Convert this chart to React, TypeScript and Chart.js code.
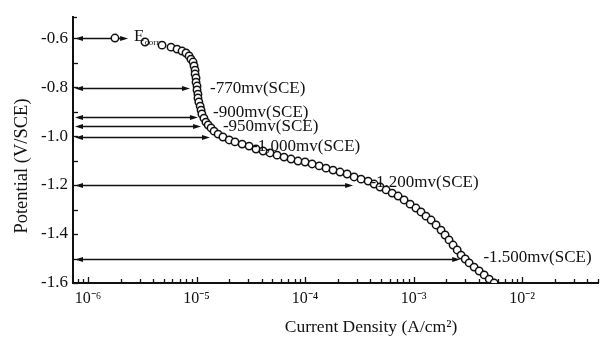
import React, { useEffect, useRef } from 'react';
import { Chart, registerables } from 'chart.js';

Chart.register(...registerables);

// Polarization curve
const currentDensity = [
  1.77e-6, 3.35e-6, 4.81e-6, 5.82e-6, 6.61e-6, 7.35e-6, 8.0e-6, 8.53e-6, 8.89e-6, 9.29e-6,
  9.49e-6, 9.69e-6, 9.69e-6, 9.89e-6, 9.89e-6, 1.01e-5, 1.01e-5, 1.03e-5, 1.03e-5, 1.05e-5,
  1.08e-5, 1.10e-5, 1.12e-5, 1.17e-5, 1.22e-5, 1.28e-5, 1.36e-5, 1.45e-5, 1.58e-5, 1.75e-5,
  2.0e-5, 2.26e-5, 2.63e-5, 3.05e-5, 3.53e-5, 4.10e-5, 4.75e-5, 5.52e-5, 6.40e-5, 7.43e-5,
  8.61e-5, 1.0e-4, 1.16e-4, 1.35e-4, 1.56e-4, 1.81e-4, 2.10e-4, 2.44e-4, 2.83e-4, 3.28e-4,
  3.81e-4, 4.33e-4, 4.91e-4, 5.58e-4, 6.34e-4, 7.20e-4, 8.17e-4, 9.29e-4, 1.05e-3, 1.17e-3,
  1.30e-3, 1.45e-3, 1.61e-3, 1.79e-3, 1.95e-3, 2.12e-3, 2.31e-3, 2.52e-3, 2.74e-3, 2.99e-3,
  3.25e-3, 3.61e-3, 4.02e-3, 4.47e-3, 4.97e-3, 5.52e-3,
];
const potential = [
  -0.600, -0.616, -0.629, -0.637, -0.645, -0.653, -0.661, -0.673, -0.686, -0.698,
  -0.714, -0.731, -0.747, -0.763, -0.780, -0.796, -0.812, -0.829, -0.845, -0.861,
  -0.878, -0.894, -0.910, -0.927, -0.943, -0.955, -0.967, -0.980, -0.992, -1.004,
  -1.016, -1.024, -1.033, -1.041, -1.053, -1.061, -1.069, -1.078, -1.086, -1.094,
  -1.102, -1.106, -1.114, -1.122, -1.131, -1.139, -1.147, -1.155, -1.167, -1.176,
  -1.184, -1.196, -1.208, -1.220, -1.233, -1.245, -1.261, -1.278, -1.294, -1.310,
  -1.327, -1.343, -1.363, -1.384, -1.404, -1.424, -1.445, -1.465, -1.486, -1.502,
  -1.518, -1.535, -1.551, -1.567, -1.584, -1.600,
];

// Horizontal double arrows (potential level, current density at the arrow tip)
const arrowPotential = [-0.600, -0.804, -0.922, -0.959, -1.004, -1.200, -1.502];
const arrowCurrent = [2.34e-6, 8.7e-6, 1.03e-5, 1.10e-5, 1.33e-5, 2.77e-4, 2.69e-3];

// Annotation texts and their anchors (left edge, middle) in data units
const noteText = ['-770mv(SCE)', '-900mv(SCE)', '-950mv(SCE)', '-1,000mv(SCE)', '-1.200mv(SCE)', '-1.500mv(SCE)'];
const noteCurrent = [1.33e-5, 1.42e-5, 1.75e-5, 3.25e-5, 4.0e-4, 4.4e-3];
const notePotential = [-0.808, -0.902, -0.963, -1.041, -1.188, -1.494];
const ecorrCurrent = 2.65e-6;
const ecorrPotential = -0.608;

// Axes
const yTickValues = [-1.6, -1.5, -1.4, -1.3, -1.2, -1.1, -1.0, -0.9, -0.8, -0.7, -0.6];
const xDecades = [-7, -6, -5, -4, -3, -2];
const xMin = 7.27e-7;
const xMax = 0.05;
const yMin = -1.6;
const yMax = -0.514;
const xTitle = 'Current Density (A/cm²)';
const yTitle = 'Potential (V/SCE)';

const FONT = "'Liberation Serif', 'Times New Roman', serif";
const INK = '#111111';

const SUP: Record<string, string> = {
  '-': '⁻', '0': '⁰', '1': '¹', '2': '²', '3': '³', '4': '⁴', '5': '⁵', '6': '⁶', '7': '⁷', '8': '⁸', '9': '⁹',
};
const sup = (s: string) => s.split('').map((c) => SUP[c] ?? c).join('');

function head(ctx: CanvasRenderingContext2D, tipX: number, tipY: number, dir: number) {
  ctx.beginPath();
  ctx.moveTo(tipX, tipY);
  ctx.lineTo(tipX - dir * 8, tipY - 2.6);
  ctx.lineTo(tipX - dir * 8, tipY + 2.6);
  ctx.closePath();
  ctx.fill();
}

const decor = {
  id: 'decor',
  beforeDatasetsDraw(chart: any) {
    const { ctx, chartArea } = chart;
    const x = chart.scales.x;
    const y = chart.scales.y;
    ctx.save();
    ctx.strokeStyle = INK;
    ctx.fillStyle = INK;
    // inward tick marks
    ctx.lineWidth = 1.3;
    y.ticks.forEach((t: any) => {
      const py = Math.round(y.getPixelForValue(t.value)) + 0.5;
      ctx.beginPath();
      ctx.moveTo(chartArea.left, py);
      ctx.lineTo(chartArea.left + 5, py);
      ctx.stroke();
    });
    x.ticks.forEach((t: any) => {
      const px = Math.round(x.getPixelForValue(t.value)) + 0.5;
      const len = t.major ? 6 : 4;
      ctx.beginPath();
      ctx.moveTo(px, chartArea.bottom);
      ctx.lineTo(px, chartArea.bottom - len);
      ctx.stroke();
    });
    // top end mark of the y axis
    ctx.beginPath();
    ctx.moveTo(chartArea.left, chartArea.top + 0.5);
    ctx.lineTo(chartArea.left + 4, chartArea.top + 0.5);
    ctx.stroke();
    // arrows
    ctx.lineWidth = 1.4;
    arrowPotential.forEach((v, i) => {
      const py = Math.round(y.getPixelForValue(v)) + 0.5;
      const x0 = chartArea.left + 2;
      const x1 = x.getPixelForValue(arrowCurrent[i]);
      ctx.beginPath();
      ctx.moveTo(x0 + 4, py);
      ctx.lineTo(x1 - 4, py);
      ctx.stroke();
      head(ctx, x0, py, -1);
      head(ctx, x1, py, 1);
    });
    ctx.restore();
  },
  afterDatasetsDraw(chart: any) {
    const { ctx } = chart;
    const x = chart.scales.x;
    const y = chart.scales.y;
    ctx.save();
    ctx.fillStyle = INK;
    ctx.textBaseline = 'middle';
    ctx.textAlign = 'left';
    ctx.font = `17px ${FONT}`;
    noteText.forEach((s, i) => {
      ctx.fillText(s, x.getPixelForValue(noteCurrent[i]), y.getPixelForValue(notePotential[i]));
    });
    // E_corr
    const ex = x.getPixelForValue(ecorrCurrent);
    const ey = y.getPixelForValue(ecorrPotential);
    ctx.font = `17px ${FONT}`;
    ctx.fillText('E', ex, ey - 3);
    const ew = ctx.measureText('E').width;
    ctx.font = `9px ${FONT}`;
    ctx.fillText('corr', ex + ew + 0.5, ey + 3);
    // axis titles
    ctx.textAlign = 'center';
    ctx.font = `17.5px ${FONT}`;
    ctx.fillText(xTitle, 371, 327);
    ctx.save();
    ctx.translate(22, 166);
    ctx.rotate(-Math.PI / 2);
    ctx.font = `18.5px ${FONT}`;
    ctx.fillText(yTitle, 0, 0);
    ctx.restore();
    ctx.restore();
  },
};

export default function App() {
  const ref = useRef<HTMLCanvasElement | null>(null);
  useEffect(() => {
    if (!ref.current) return;
    const chart = new Chart(ref.current, {
      type: 'scatter',
      data: {
        datasets: [
          {
            data: currentDensity.map((c, i) => ({ x: c, y: potential[i] })),
            showLine: false,
            pointRadius: 3.7,
            pointBorderWidth: 1.5,
            borderColor: INK,
            backgroundColor: '#ffffff',
            pointBackgroundColor: '#ffffff',
            pointBorderColor: INK,
          },
        ],
      },
      options: {
        responsive: false,
        animation: false,
        devicePixelRatio: 1,
        layout: { padding: { top: 17, right: 9, left: 0, bottom: 0 } },
        plugins: { legend: { display: false }, tooltip: { enabled: false } },
        scales: {
          x: {
            type: 'logarithmic',
            position: 'bottom',
            min: xMin,
            max: xMax,
            bounds: 'data',
            grid: { display: false, drawTicks: false },
            border: { display: true, color: INK, width: 2 },
            afterBuildTicks: (s: any) => {
              const t: any[] = [];
              xDecades.forEach((e) => {
                for (let m = 1; m <= 9; m++) {
                  const v = m * Math.pow(10, e);
                  if (v >= s.min && v <= s.max) t.push({ value: v, major: m === 1 });
                }
              });
              s.ticks = t;
            },
            afterFit: (s: any) => {
              s.height = 62;
            },
            ticks: {
              autoSkip: false,
              maxRotation: 0,
              padding: 6,
              color: INK,
              font: { family: FONT, size: 16 },
              callback: (v: any) => {
                const e = Math.log10(Number(v));
                if (Math.abs(e - Math.round(e)) > 1e-6) return '';
                return '10' + sup(String(Math.round(e)));
              },
            },
          },
          y: {
            type: 'linear',
            min: yMin,
            max: yMax,
            bounds: 'data',
            grid: { display: false, drawTicks: false },
            border: { display: true, color: INK, width: 2 },
            afterBuildTicks: (s: any) => {
              s.ticks = yTickValues.map((v) => ({ value: v }));
            },
            afterFit: (s: any) => {
              s.width = 73;
            },
            ticks: {
              autoSkip: false,
              padding: 5,
              color: INK,
              font: { family: FONT, size: 17 },
              callback: (v: any) => {
                const k = Math.round(Number(v) * 10);
                if (k % 2 !== 0) return '';
                return (k / 10).toFixed(1);
              },
            },
          },
        },
      },
      plugins: [decor],
    });
    return () => chart.destroy();
  }, []);
  return (
    <div style={{ position: 'fixed', left: 0, top: 0, width: 607, height: 345, background: '#fff' }}>
      <canvas ref={ref} width={607} height={345} style={{ width: 607, height: 345 }} />
    </div>
  );
}
